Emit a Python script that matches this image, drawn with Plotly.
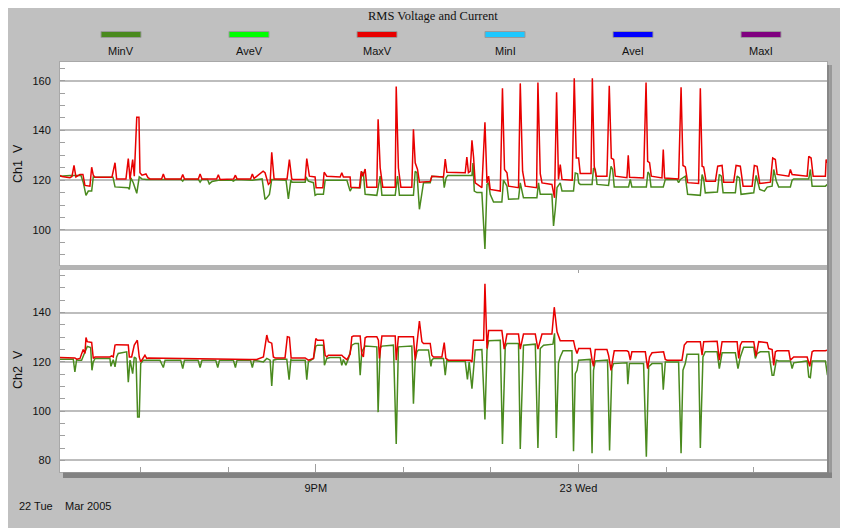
import plotly.graph_objects as go
from datetime import datetime, timedelta

# ---------------- data (minutes after 18:00, 22 Mar 2005) ----------------
START = datetime(2005, 3, 22, 18, 0)

ch1_max_t = [4.2, 6.0, 11.5, 12.9, 14.3, 15.6, 18.4, 20.4, 21.8, 25.2,
             26.4, 27.5, 28.7, 40.3, 42.4, 43.5, 44.4, 49.9, 51.5, 52.7,
             54.5, 55.6, 57.3, 58.8, 59.5, 60.9, 63.6, 65.0, 66.4, 74.3,
             75.5, 76.7, 87.6, 88.8, 90.0, 99.5, 100.7, 102.0, 112.0, 113.2,
             114.4, 123.7, 124.9, 126.0, 135.3, 136.5,
             137.7, 143.9, 145.2, 147.5, 148.7, 149.8, 151.4, 160.3, 161.9, 163.5,
             164.4, 172.7, 173.8, 175.6, 179.5, 180.2, 184.8, 185.7, 187.5, 196.7,
             197.8, 198.9, 203.5, 204.0, 209.9, 211.1, 212.2, 213.8, 215.0, 221.8,
             222.7, 224.1, 225.9, 234.4, 235.1, 236.6, 238.3, 245.8, 246.9, 248.1,
             249.7, 251.0, 258.4, 259.5, 267.5, 268.7, 269.8, 270.9, 282.4, 283.5,
             284.6, 285.8, 287.0, 288.1, 289.2, 293.8, 295.9, 297.3, 298.4, 299.5,
             306.4, 307.9, 309.3, 311.0, 312.1, 318.9, 320.1, 321.7, 323.5, 331.3,
             332.2, 333.8, 335.0, 341.8, 343.6, 345.0, 346.3, 347.5, 348.7, 355.7,
             357.1, 358.5, 360.1, 361.2, 368.6, 369.5, 370.8, 372.2, 379.5, 381.1,
             382.5, 384.1, 385.2, 393.2, 394.1, 395.0, 404.6, 406.3, 407.4, 408.7,
             409.9, 417.2, 418.1, 419.0, 428.6, 430.3, 431.6, 433.2, 434.8, 442.3,
             443.5, 444.7, 445.8, 447.4, 453.8, 455.4, 458.4, 459.5, 466.3, 468.0,
             470.9, 472.8, 479.0, 480.5, 482.4, 484.2, 491.5, 493.1, 494.9, 496.1,
             504.1, 505.2, 506.4, 516.7, 517.8, 519.4, 520.8, 529.2, 529.7, 530.6]
ch1_max_v = [122, 121.5, 121, 121.5, 125.9, 121.3, 122.3, 122.3, 117.9, 117.6,
             125.2, 122, 121.2, 121.2, 127, 120.5, 120.5, 120.5, 128.7, 120.3,
             128.3, 121.6, 145.3, 145.3, 123, 122, 122.5, 121, 120.5, 120.5,
             122.5, 120.5, 120.5, 122.3, 120.5, 120.5, 122.5, 120.5, 120.5, 122.2,
             120.3, 120.5, 122, 120.5, 120.5, 122.5,
             120.7, 123.6, 123, 118.3, 119, 131.2, 120.5, 120.5, 128.3, 120.5,
             120.3, 120.3, 128.7, 121.6, 121.3, 117, 117, 123.2, 121.6, 121.3,
             123, 121.3, 121.3, 117.2, 117, 123.6, 121.6, 124.5, 117.2, 117.2,
             144.5, 125, 117.2, 117.2, 157.6, 124.9, 117.2, 117.2, 140.5, 127,
             124.3, 119.2, 119.5, 121.6, 121.3, 128.5, 123.2, 123.2, 123, 129.3,
             123, 123.5, 136, 129.3, 118.9, 117, 143.3, 118.9, 121.6, 116.3,
             115.6, 156.9, 124.3, 123, 117.6, 117, 158.9, 123.6, 117.6, 117,
             159.3, 122.6, 118.9, 118.3, 112.9, 155.3, 120.3, 126.3, 120.3, 120,
             161, 128.9, 128.9, 122.7, 122.7, 161, 125.6, 121.6, 121.6, 157.9,
             128.9, 128.3, 121.6, 121, 130, 121.2, 120.9, 159.3, 127.6, 127,
             121.6, 120.9, 132.3, 120.9, 120.5, 157.3, 125.9, 125.3, 119, 118.7,
             156.9, 125.6, 125.3, 119.6, 119.6, 125.6, 125.9, 119.2, 119.2, 125.9,
             125.6, 117.6, 117.6, 125.9, 125.6, 118.7, 119.2, 128.9, 128.3, 122.3,
             121.6, 124.3, 122.3, 121.6, 129.6, 128.9, 121.6, 121.6, 128.3, 127]

ch1_min_t = [4.2, 11.5, 19.1, 20.6, 22.5, 24.1, 26.4, 27.5, 28.7, 41.0,
             42.4, 51.3, 52.2, 53.3, 54.9, 57.3, 59.0, 60.9, 64.1, 87.6,
             88.8, 89.7, 99.5, 100.7, 102.0, 105.8, 107.0, 108.9, 113.2, 122.3,
             123.5, 125.3, 136.5, 143.2,
             145.2, 146.4, 148.2, 149.8, 159.6, 161.2, 162.9, 163.7, 172.7, 173.3,
             174.9, 178.4, 179.5, 180.7, 185.2, 186.4, 201.3, 203.5, 204.7, 210.4,
             211.5, 212.6, 213.8, 221.8, 224.1, 225.3, 234.4, 236.0, 237.3, 246.9,
             248.1, 249.3, 251.0, 252.7, 253.8, 258.4, 259.5, 267.3, 268.0, 269.3,
             270.4, 287.0, 287.7, 288.6, 290.4, 293.8, 295.9, 297.3, 298.4, 299.5,
             301.8, 307.5, 308.6, 311.0, 312.1, 318.9, 320.1, 322.3, 331.5, 332.6,
             333.8, 341.8, 342.9, 344.1, 345.3, 347.5, 348.7, 356.6, 357.8, 359.4,
             360.1, 361.2, 369.3, 370.3, 371.5, 372.7, 380.6, 382.3, 383.4, 384.5,
             394.3, 395.5, 396.6, 406.5, 407.6, 408.7, 409.7, 418.1, 419.5, 427.5,
             428.6, 429.8, 433.2, 434.8, 443.5, 444.7, 445.8, 446.9, 455.2, 456.5,
             457.9, 459.1, 467.5, 468.7, 470.3, 471.4, 480.1, 481.7, 482.8, 484.2,
             487.4, 489.3, 492.7, 493.8, 495.6, 497.2, 505.2, 506.4, 507.5, 517.8,
             518.9, 520.1, 529.2, 530.6]
ch1_min_v = [121.6, 121.9, 121.9, 119.2, 113.9, 115.6, 115.6, 121.3, 121.2, 121.2,
             117.3, 117, 116.3, 120.9, 119, 114.7, 121.3, 120.5, 120.3, 120.3,
             119.6, 120.3, 120.3, 119.2, 120.3, 120.3, 118.5, 119.5, 120, 120,
             119.6, 120.3, 120, 120.5,
             112.3, 112.9, 114.3, 120.3, 120, 112.5, 120, 119.2, 119.2, 121.3,
             119.6, 119, 113.9, 114.3, 114.3, 120, 120, 115.6, 117, 117,
             123.2, 122.9, 114.3, 113.9, 121.6, 113.9, 113.9, 121.6, 113.9, 113.9,
             123.6, 122.9, 108.3, 114.9, 119, 119, 121.6, 121.3, 117, 121,
             121.9, 121.9, 126.9, 115.6, 115, 115, 92.3, 118.3, 118.9, 114.3,
             111.2, 111.2, 120, 117.6, 112.3, 112.5, 118.9, 112.9, 112.9, 118.9,
             114.3, 114.3, 101.6, 108.3, 117, 118.9, 115.6, 115.6, 122.9, 122.6,
             118.9, 118.3, 118.3, 124.9, 124.3, 118.3, 117.9, 125.6, 124.3, 117.3,
             117.3, 120.3, 117.3, 117.3, 123.3, 122.3, 117.3, 117.3, 120.3, 120.3,
             119, 120.3, 121.6, 114.3, 113.9, 122.3, 120.3, 114.9, 115.2, 122.3,
             121.6, 114.9, 114.9, 121.6, 120.9, 114.3, 114.9, 121.9, 119, 116.3,
             115.6, 117.2, 117.6, 124.3, 119.6, 117.3, 117.3, 120, 120.5, 120.5,
             124.3, 117.6, 117.6, 118.3]

ch2_max_t = [4.2, 14.9, 16.1, 18.4, 20.6, 21.8, 22.5, 23.4, 26.4, 27.5,
             28.7, 38.9, 40.1, 41.2, 42.4, 43.5, 51.5, 52.2, 53.8, 55.6,
             57.7, 59.0, 60.0, 61.8, 62.9, 64.1, 65.2, 134.9, 139.5, 144.1,
             146.4, 147.5, 149.8, 150.9, 152.1, 158.9, 160.5, 161.9, 163.1, 172.7,
             174.9, 178.4, 180.0, 181.1, 185.2, 186.4, 187.5, 188.6, 197.8, 198.9,
             201.3, 203.5, 204.7, 205.8, 210.4, 211.5, 212.6, 213.8, 215.0, 221.8,
             222.9, 223.6, 225.3, 234.4, 235.1, 236.6, 246.9, 248.1, 249.3, 251.0,
             252.7, 253.8, 258.4, 259.5, 260.6, 266.4, 268.0, 269.1, 270.9, 285.8,
             287.0, 288.1, 295.0, 295.9, 297.3, 298.4, 307.5, 309.1, 311.0, 318.9,
             320.1, 322.3, 330.4, 332.2, 335.0, 341.8, 343.4, 345.3, 347.5, 356.6,
             357.8, 359.0, 360.1, 368.1, 369.3, 370.3, 371.5, 379.5, 380.6, 382.3,
             383.4, 384.5, 393.2, 394.3, 395.5, 396.6, 405.8, 407.4, 408.7, 410.4,
             418.3, 419.5, 420.7, 430.9, 432.5, 434.4, 443.5, 444.7, 445.8, 455.0,
             456.5, 458.4, 468.7, 469.8, 470.9, 472.1, 480.1, 481.7, 483.5, 489.3,
             490.4, 492.7, 493.8, 494.9, 496.1, 504.1, 505.2, 506.4, 507.5, 516.7,
             518.5, 520.1, 521.2, 529.2, 530.6]
ch2_max_v = [121.8, 121.6, 121.1, 121.4, 125, 123.4, 129.9, 128.2, 127.9, 121.4,
             122, 122, 122.4, 122, 126.8, 127, 126.9, 122, 122, 126.8,
             128.8, 122, 120, 122, 122.7, 121.4, 121.6, 121, 121, 122,
             130.9, 128.2, 127.6, 122, 121.6, 121.6, 130.2, 130, 121.6, 121.6,
             120.7, 121.4, 129.5, 128.8, 128.8, 122.7, 122, 122.7, 122.7, 122,
             120.9, 123.1, 130.2, 130.5, 130.5, 123.1, 122, 129.8, 130.2, 130.2,
             128.8, 121.4, 130.5, 130.5, 120.7, 130.2, 130.2, 120.7, 127.5, 136.6,
             128.2, 127.5, 127.5, 122.7, 122, 122, 127.8, 121.4, 120.7, 120.7,
             120, 128.8, 128.8, 151.7, 125.4, 132.7, 132.7, 125.2, 131.3, 131.3,
             125.2, 131.3, 131.3, 125.2, 131.3, 131.3, 142.2, 132.2, 128.6, 128.6,
             125.4, 123.4, 125.4, 125.4, 120.7, 118.2, 125, 125, 122.7, 116.6,
             120.7, 124.5, 124.5, 124.1, 120.7, 124.1, 124.1, 117.3, 122, 123.7,
             124.1, 121, 120.7, 120.7, 126.8, 128.2, 128.2, 122.7, 128.2, 128.4,
             120.7, 128.2, 128.2, 121.4, 126.8, 128.2, 128.2, 122.3, 128.2, 127.8,
             125.4, 125, 118.6, 124.1, 124.5, 124.5, 120.7, 121.4, 122, 122,
             118.2, 124.1, 124.5, 124.5, 124.8]

ch2_min_t = [4.2, 13.8, 14.9, 16.1, 17.2, 19.5, 20.6, 22.5, 23.4, 25.7,
             26.6, 27.5, 28.7, 38.9, 39.6, 41.2, 42.4, 43.5, 44.6, 50.4,
             51.5, 52.7, 54.5, 55.6, 56.8, 57.9, 59.0, 60.0, 61.8, 73.2,
             75.5, 76.7, 87.4, 88.8, 90.0, 99.3, 100.7, 102.0, 111.4, 112.8,
             114.0, 123.5, 124.9, 126.0, 135.2, 136.5, 137.7, 144.1, 146.4, 148.7,
             149.8, 150.9, 153.3, 160.1, 161.7, 162.9, 163.5, 172.7, 173.8, 174.9,
             178.4, 180.0, 181.1, 185.2, 185.9, 187.5, 189.8, 196.7, 197.8, 198.9,
             200.6, 202.4, 204.7, 206.9, 209.2, 210.4, 211.5, 213.8, 221.8, 222.7,
             224.1, 225.3, 233.2, 235.1, 236.6, 245.8, 246.9, 248.1, 249.3, 250.3,
             257.2, 258.9, 259.5, 260.6, 267.5, 268.7, 269.8, 270.9, 282.4, 283.9,
             285.1, 287.0, 288.1, 289.2, 293.8, 295.9, 297.3, 298.4, 306.4, 307.9,
             309.8, 311.0, 318.9, 320.1, 322.3, 330.4, 332.2, 333.8, 336.1, 342.5,
             343.6, 344.8, 346.3, 347.5, 349.4, 355.5, 356.6, 357.8, 359.0, 360.1,
             368.1, 369.3, 370.3, 371.5, 379.9, 381.3, 382.9, 384.0, 393.2, 393.8,
             394.9, 404.6, 406.5, 408.1, 410.4, 417.2, 418.1, 419.5, 428.6, 430.3,
             431.6, 433.2, 434.4, 442.3, 443.5, 445.3, 446.9, 455.0, 456.5, 458.4,
             467.5, 469.3, 470.9, 473.2, 480.1, 481.2, 482.4, 484.6, 490.4, 492.7,
             493.8, 495.6, 497.2, 505.2, 506.4, 507.5, 516.7, 517.8, 518.9, 520.1,
             529.2, 530.6]
ch2_min_v = [121.1, 121.1, 115.9, 120.9, 120.7, 120.7, 122.3, 125.4, 126.3, 125.8,
             116.6, 120, 121.4, 121.4, 118.2, 120.9, 118, 122, 123.4, 124.1,
             111.8, 120.7, 115.2, 122, 121.4, 97.6, 97.6, 119.3, 120.7, 120.7,
             117.7, 120.7, 120.7, 117.3, 120.7, 120.7, 117.7, 120.7, 120.7, 117.7,
             120.7, 120.7, 117.7, 120.7, 120.7, 117.7, 120.7, 120, 121.4, 120.7,
             110.2, 120.7, 121.1, 121.1, 112.8, 120.9, 120.7, 120.7, 112.8, 120,
             121.4, 126.4, 126.8, 126.8, 118.6, 121.4, 121.8, 121.8, 118.6, 121,
             118.6, 121.4, 126.8, 127.5, 127.5, 114.6, 124.1, 126.4, 126.1, 99.6,
             125.8, 126.4, 126.8, 86.7, 126.1, 126.4, 103, 120.7, 124.1, 124.8,
             124.8, 118.2, 120.7, 121.4, 121.4, 114.6, 120.7, 120.3, 120.3, 112.9,
             120, 109.1, 116.6, 124.8, 125, 96.6, 124.8, 128.6, 128.8, 86.7,
             126.1, 127.5, 127.5, 84.6, 126.8, 127.2, 85, 125.4, 126.8, 127.2,
             131.6, 89.1, 119.6, 122, 124.5, 124.5, 83.7, 115.2, 116.6, 120.7,
             121, 82.9, 116.6, 120.4, 120.7, 84, 117.3, 119.3, 119.6, 110.9,
             119.3, 119.3, 81.5, 118, 119.3, 119.3, 108.7, 120, 120, 82.9,
             116.6, 119.3, 123.1, 123.1, 85, 122, 124.1, 124.1, 117.3, 123.7,
             123.7, 117.3, 122, 125.9, 125.9, 121.4, 123.4, 124.1, 124.1, 114.6,
             114.6, 120.7, 120.4, 120.4, 117.3, 119.6, 120.4, 113.9, 113.6, 120.4,
             120.4, 114.6]

legend_names = ["MinV", "AveV", "MaxV", "MinI", "AveI", "MaxI"]
x_tick_hours = [3, 6]
x_tick_text = ["9PM", "23 Wed"]
x_minor_hours = [1, 2, 4, 5, 7, 8]
y1_ticks = [100, 120, 140, 160]
y2_ticks = [80, 100, 120, 140]

# ---------------- styling ----------------
legend_colors = ["#4a8a1e", "#00ff00", "#e80000", "#1ec8ff", "#0000ff", "#800080"]
MIN_COLOR, MAX_COLOR = legend_colors[0], legend_colors[2]
BG = "#c0c0c0"
SANS = "Liberation Sans, Arial, sans-serif"
TXT = "#111111"

W, H = 848, 528
OFF = 8                      # the page body margin shifts the figure by 8 px
L, R, T, B = 60, 827, 62, 472   # plot area edges on screen


def px(x):
    return (x - L) / (R - L)


def py(y):
    return (B - y) / (B - T)


def tt(mins):
    return [START + timedelta(minutes=m) for m in mins]


fig = go.Figure()
fig.add_trace(go.Scatter(x=tt(ch1_min_t), y=ch1_min_v, mode="lines", name="MinV",
                         line=dict(color=MIN_COLOR, width=1.5), xaxis="x", yaxis="y"))
fig.add_trace(go.Scatter(x=tt(ch1_max_t), y=ch1_max_v, mode="lines", name="MaxV",
                         line=dict(color=MAX_COLOR, width=1.5), xaxis="x", yaxis="y"))
fig.add_trace(go.Scatter(x=tt(ch2_min_t), y=ch2_min_v, mode="lines", name="MinV",
                         line=dict(color=MIN_COLOR, width=1.5), xaxis="x2", yaxis="y2"))
fig.add_trace(go.Scatter(x=tt(ch2_max_t), y=ch2_max_v, mode="lines", name="MaxV",
                         line=dict(color=MAX_COLOR, width=1.5), xaxis="x2", yaxis="y2"))

x_range = [START + timedelta(minutes=4.7), START + timedelta(minutes=530.3)]
tick_font = dict(family=SANS, size=11, color=TXT)
axis_line = dict(showline=True, linecolor="#a8a8a8", linewidth=1, mirror=True)

fig.update_layout(
    width=W, height=H,
    margin=dict(l=L - OFF, r=W - (R - OFF), t=T - OFF, b=H - (B - OFF), pad=0),
    paper_bgcolor=BG, plot_bgcolor="white",
    showlegend=False,
    xaxis=dict(domain=[0, 1], anchor="y", range=x_range, showgrid=False, zeroline=False,
               showticklabels=False,
               tickvals=[START + timedelta(hours=h) for h in [6]],
               ticks="outside", ticklen=7, tickcolor="#a0a0a0", **axis_line),
    yaxis=dict(domain=[py(265), 1], anchor="x", range=[85.9, 167.5],
               tickvals=y1_ticks, ticks="inside", ticklen=5, tickcolor="#a0a0a0",
               showgrid=True, gridcolor="#bdbdbd", gridwidth=1.6, zeroline=False,
               tickfont=tick_font, ticklabelstandoff=6,
               minor=dict(dtick=5, ticks="inside", ticklen=5, tickcolor="#a0a0a0",
                          showgrid=False), **axis_line),
    xaxis2=dict(domain=[0, 1], anchor="y2", range=x_range, showgrid=False, zeroline=False,
                tickvals=[START + timedelta(hours=h) for h in x_tick_hours],
                ticktext=x_tick_text, ticks="inside", ticklen=8, tickcolor="#a0a0a0",
                tickfont=tick_font, ticklabelstandoff=6,
                minor=dict(tickmode="array",
                           tickvals=[START + timedelta(hours=h) for h in x_minor_hours],
                           ticks="inside", ticklen=5, tickcolor="#a0a0a0", showgrid=False),
                **axis_line),
    yaxis2=dict(domain=[0, py(270)], anchor="x2", range=[75.3, 157.3],
                tickvals=y2_ticks, ticks="inside", ticklen=5, tickcolor="#a0a0a0",
                showgrid=True, gridcolor="#bdbdbd", gridwidth=1.6, zeroline=False,
                tickfont=tick_font, ticklabelstandoff=6,
                minor=dict(dtick=5, ticks="inside", ticklen=5, tickcolor="#a0a0a0",
                           showgrid=False), **axis_line),
)

shapes = []
# band between the two panels
shapes.append(dict(type="rect", xref="paper", yref="paper", x0=px(60), x1=px(827),
                   y0=py(270), y1=py(265), fillcolor="#b4b4b4", line=dict(width=0), layer="above"))
# drop shadows
shapes.append(dict(type="rect", xref="paper", yref="paper", x0=px(827), x1=px(829.5),
                   y0=py(478), y1=py(65), fillcolor="#878787", line=dict(width=0), layer="above"))
shapes.append(dict(type="rect", xref="paper", yref="paper", x0=px(829.5), x1=px(832),
                   y0=py(478), y1=py(65), fillcolor="#999999", line=dict(width=0), layer="above"))
shapes.append(dict(type="rect", xref="paper", yref="paper", x0=px(63), x1=px(832),
                   y0=py(478), y1=py(472.5), fillcolor="#828282", line=dict(width=0), layer="above"))

annotations = []
# custom legend: colour bar above each label
legend_cx = [121 + 128 * i for i in range(len(legend_names))]
for name, col, cx in zip(legend_names, legend_colors, legend_cx):
    shapes.append(dict(type="rect", xref="paper", yref="paper", x0=px(cx - 20), x1=px(cx + 20),
                       y0=py(37.5), y1=py(31.5), fillcolor=col,
                       line=dict(color="#9a9a9a", width=1), layer="above"))
    annotations.append(dict(text=name, xref="paper", yref="paper", x=px(cx), y=py(51),
                            xanchor="center", yanchor="middle", showarrow=False,
                            font=dict(family=SANS, size=11, color=TXT)))

annotations.append(dict(text="RMS Voltage and Current", xref="paper", yref="paper",
                        x=px(433), y=py(16), xanchor="center", yanchor="middle", showarrow=False,
                        font=dict(family="Liberation Serif, Times New Roman, serif", size=12.5,
                                  color=TXT)))
annotations.append(dict(text="Ch1  V", xref="paper", yref="paper", x=px(18), y=py(164),
                        xanchor="center", yanchor="middle", showarrow=False, textangle=-90,
                        font=dict(family=SANS, size=12.5, color=TXT)))
annotations.append(dict(text="Ch2  V", xref="paper", yref="paper", x=px(18), y=py(370),
                        xanchor="center", yanchor="middle", showarrow=False, textangle=-90,
                        font=dict(family=SANS, size=12.5, color=TXT)))
annotations.append(dict(text="22 Tue", xref="paper", yref="paper", x=px(36), y=py(506),
                        xanchor="center", yanchor="middle", showarrow=False,
                        font=dict(family=SANS, size=11, color=TXT)))
annotations.append(dict(text="Mar 2005", xref="paper", yref="paper", x=px(87.5), y=py(506),
                        xanchor="center", yanchor="middle", showarrow=False,
                        font=dict(family=SANS, size=11, color=TXT)))

fig.update_layout(shapes=shapes, annotations=annotations)
fig.write_html("out.html")
